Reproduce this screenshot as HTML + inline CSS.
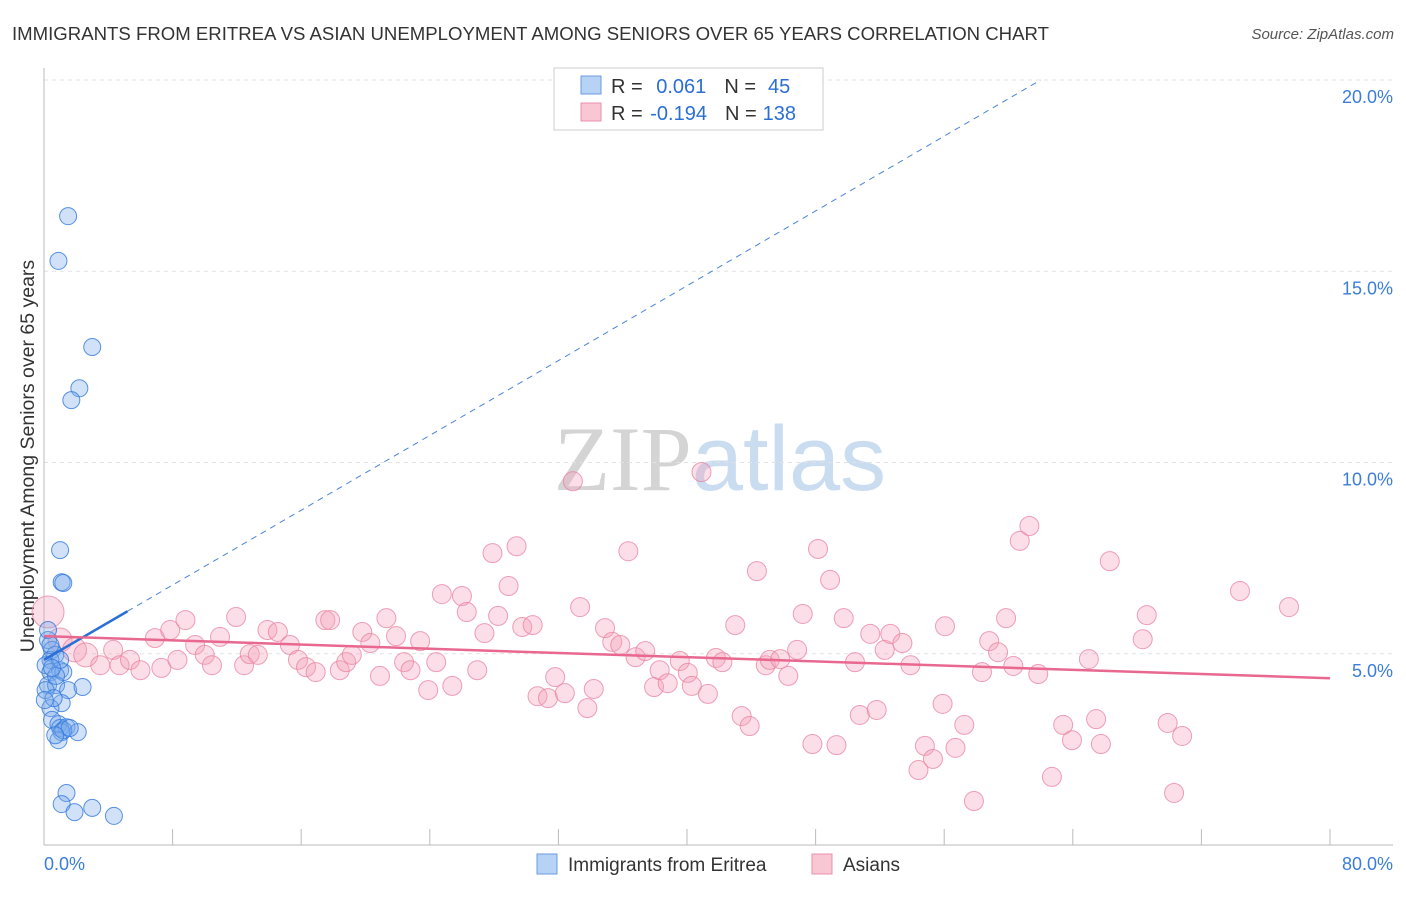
<!DOCTYPE html>
<html><head><meta charset="utf-8"><style>
body{margin:0;background:#fff;font-family:"Liberation Sans",sans-serif;}
svg text{font-family:"Liberation Sans",sans-serif;}
</style></head><body>
<svg id="chart" width="1406" height="892">
<text x="12" y="40" font-size="18.6" fill="#333">IMMIGRANTS FROM ERITREA VS ASIAN UNEMPLOYMENT AMONG SENIORS OVER 65 YEARS CORRELATION CHART</text>
<text x="1394" y="39" font-size="15" fill="#555" text-anchor="end" font-style="italic">Source: ZipAtlas.com</text>
<text x="720" y="490" font-size="92" fill="#ddd" text-anchor="middle"><tspan fill="#d4d4d4" font-family="Liberation Serif">ZIP</tspan><tspan fill="#c9dcf0">atlas</tspan></text>
<text transform="translate(34,456) rotate(-90)" font-size="19.5" fill="#333" text-anchor="middle">Unemployment Among Seniors over 65 years</text>
<g id="grid"></g><g id="marks"></g>
<rect x="554" y="68" width="269" height="62" fill="#fff" stroke="#ccc"/>
<rect x="581" y="76" width="20" height="18" fill="#b6d2f4" stroke="#6a9be0"/>
<rect x="581" y="103" width="20" height="18" fill="#f9c6d4" stroke="#e890ab"/>
<text x="611" y="93" font-size="20" fill="#333">R = <tspan fill="#2b6fd6" dx="8">0.061</tspan><tspan fill="#333" dx="18">N =</tspan><tspan fill="#2b6fd6" dx="12">45</tspan></text>
<text x="611" y="120" font-size="20" fill="#333">R = <tspan fill="#2b6fd6" dx="2">-0.194</tspan><tspan fill="#333" dx="18">N =</tspan><tspan fill="#2b6fd6" dx="6">138</tspan></text>
<rect x="537" y="854" width="20" height="20" fill="#b6d2f4" stroke="#6a9be0"/>
<text x="568" y="871" font-size="19" fill="#333">Immigrants from Eritrea</text>
<rect x="812" y="854" width="20" height="20" fill="#f9c6d4" stroke="#e890ab"/>
<text x="843" y="871" font-size="19" fill="#333">Asians</text>
</svg>
<script>
const yTicks=[5,10,15,20];
const xTickLabels=["0.0%","80.0%"];
const blueX=[1.5,0.9,3.0,2.2,1.7,1.0,1.1,1.2,0.25,0.5,0.7,0.4,0.1,1.0,0.4,1.2,0.25,0.75,1.5,2.4,1.1,0.4,0.5,0.9,1.0,1.4,1.1,2.1,0.9,1.4,1.1,1.9,3.0,4.35,0.25,0.4,0.1,0.6,0.75,0.05,1.0,0.5,1.2,1.6,0.7];
const blueY=[16.44,15.27,13.02,11.94,11.63,7.71,6.87,6.85,5.36,5.1,4.97,4.84,4.7,4.57,4.52,4.52,4.18,4.18,4.05,4.13,3.71,3.58,3.27,3.16,3.06,3.08,2.95,2.95,2.74,1.36,1.07,0.86,0.97,0.76,5.62,5.23,4.05,3.84,4.42,3.79,4.84,4.63,3.0,3.06,2.87];
const pinkX=[0.25,1.0,1.9,2.6,3.5,4.3,4.7,5.35,6.0,6.9,7.3,7.85,8.3,8.8,9.4,10.0,10.45,10.95,11.95,12.45,12.8,13.3,13.9,14.55,15.3,15.8,16.3,16.9,17.5,17.8,18.4,18.8,19.15,19.8,20.3,20.9,21.3,21.9,22.4,22.8,23.4,23.9,24.4,24.75,25.4,26.0,26.3,26.95,27.4,27.9,28.25,28.9,29.4,29.75,30.4,30.7,31.35,31.8,32.4,32.9,33.35,33.8,34.2,34.9,35.35,35.85,36.35,36.8,37.4,37.95,38.3,38.8,39.55,40.05,40.3,40.9,41.3,41.8,42.2,43.0,43.4,43.9,44.35,44.9,45.15,45.8,46.3,46.85,47.2,47.8,48.15,48.9,49.3,49.75,50.45,50.75,51.4,51.8,52.3,52.65,53.4,53.9,54.4,54.8,55.3,55.9,56.05,56.7,57.25,57.85,58.35,58.8,59.35,59.85,60.3,60.7,61.3,61.85,62.7,63.4,63.95,65.0,65.45,65.75,66.3,68.35,68.6,69.9,70.3,70.8,74.4,77.45];
const pinkY=[6.09,5.36,5.1,4.97,4.7,5.1,4.7,4.84,4.57,5.41,4.63,5.62,4.84,5.88,5.23,4.97,4.7,5.44,5.96,4.7,4.99,4.97,5.62,5.57,5.23,4.84,4.65,4.52,5.88,5.88,4.57,4.78,4.97,5.57,5.28,4.42,5.93,5.46,4.78,4.57,5.33,4.05,4.78,6.56,4.16,6.51,6.09,4.57,5.54,7.63,5.99,6.77,7.81,5.7,5.75,3.89,3.84,4.39,3.97,9.51,6.22,3.58,4.08,5.67,5.31,5.23,7.68,4.91,5.07,4.13,4.57,4.23,4.81,4.5,4.16,9.75,3.95,4.89,4.78,5.75,3.37,3.11,7.16,4.7,4.84,4.86,4.42,5.1,6.04,2.64,7.74,6.93,2.61,5.93,4.78,3.4,5.52,3.53,5.1,5.52,5.28,4.7,1.96,2.59,2.25,3.69,5.72,2.54,3.14,1.15,4.52,5.33,5.04,5.93,4.68,7.95,8.34,4.47,1.78,3.14,2.74,4.86,3.29,2.64,7.42,5.38,6.01,3.19,1.36,2.85,6.64,6.22];
const blueTrend=[4.84,20.0];   // y at x=0 and at x=62
const blueTrendX=[0,5.2,62];
const pinkTrend=[5.46,4.36];   // y at x=0 and x=80
const NS="http://www.w3.org/2000/svg";
const X0=44,X1=1330,Y0=845,YTOP=80;
function xs(v){return X0+(X1-X0)*v/80;}
function ys(v){return Y0-(Y0-YTOP)*v/20;}
function mk(tag,attrs,parent){const e=document.createElementNS(NS,tag);for(const k in attrs)e.setAttribute(k,attrs[k]);parent.appendChild(e);return e;}
const grid=document.getElementById('grid'),marks=document.getElementById('marks');
yTicks.forEach(t=>{
  const l=mk('line',{x1:X0,x2:1393,y1:ys(t),y2:ys(t),stroke:'#e2e2e2','stroke-dasharray':'4,4'},grid);
  
  
  const tx=mk('text',{x:1393,y:ys(t)+23,'font-size':18,fill:'#3b7dd8','text-anchor':'end'},grid);
  tx.textContent=t.toFixed(1)+'%';
  
  
});
const ya=mk('line',{x1:X0,x2:X0,y1:68,y2:Y0,stroke:'#bbb'},grid);


const xa=mk('line',{x1:X0,x2:1393,y1:Y0,y2:Y0,stroke:'#bbb'},grid);


for(let i=0;i<=10;i++){
  const t=mk('line',{x1:xs(i*8),x2:xs(i*8),y1:Y0,y2:Y0-16,stroke:'#bbb'},grid);
  
  
}
[[0,'start',44],[80,'end',1393]].forEach((p,i)=>{
  const tx=mk('text',{x:p[2],y:870,'font-size':18,fill:'#3b7dd8','text-anchor':p[1]},grid);
  tx.textContent=xTickLabels[i];
  
  
});
pinkX.forEach((x,i)=>{
  const c=mk('circle',{cx:xs(x),cy:ys(pinkY[i]),r:i===0?16:(x<3?12:9.5),fill:'rgba(244,160,185,0.35)',stroke:'rgba(232,130,160,0.75)','stroke-width':1},marks);
  
  
});
blueX.forEach((x,i)=>{
  const c=mk('circle',{cx:xs(x),cy:ys(blueY[i]),r:8.5,fill:'rgba(120,170,235,0.35)',stroke:'rgba(50,120,220,0.8)','stroke-width':1},marks);
  
  
});
function bY(x){return blueTrend[0]+(blueTrend[1]-blueTrend[0])*x/blueTrendX[2];}
const bs=mk('line',{x1:xs(0),y1:ys(bY(0)),x2:xs(blueTrendX[1]),y2:ys(bY(blueTrendX[1])),stroke:'#2a6fd6','stroke-width':2.5},marks);


const bd=mk('line',{x1:xs(blueTrendX[1]),y1:ys(bY(blueTrendX[1])),x2:xs(blueTrendX[2]),y2:ys(bY(blueTrendX[2])),stroke:'#4a84d8','stroke-width':1,'stroke-dasharray':'6,5'},marks);


const pl=mk('line',{x1:xs(0),y1:ys(pinkTrend[0]),x2:xs(80),y2:ys(pinkTrend[1]),stroke:'#e8688f','stroke-width':2.5},marks);


</script>
</body></html>
